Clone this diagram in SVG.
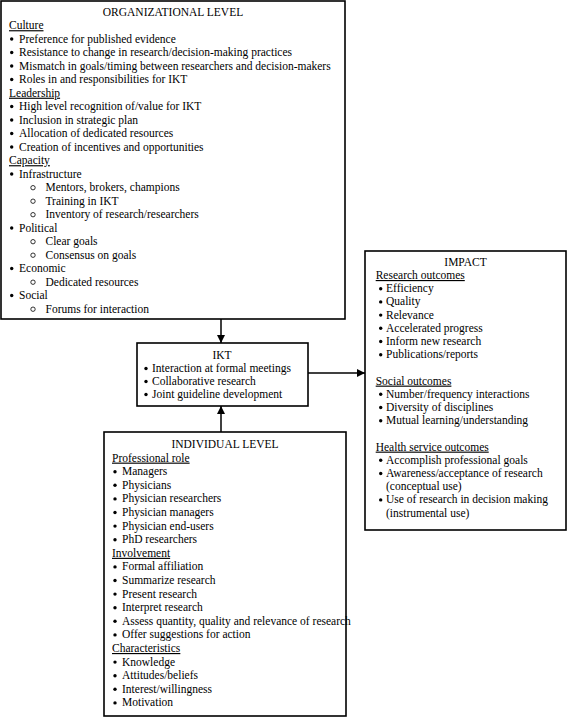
<svg xmlns="http://www.w3.org/2000/svg" width="568" height="718" viewBox="0 0 568 718">
<style>
text{font-family:"Liberation Serif","Times New Roman",serif;font-size:11.5px;fill:#000}
.t{text-anchor:middle}
.h{text-decoration:underline}
.box{fill:#fff;stroke:#000;stroke-width:1.6}
.b{fill:#000}
.o{fill:none;stroke:#000;stroke-width:0.8}
.edge{stroke:#000;stroke-width:1.5;fill:none}
</style>
<defs>
<marker id="ah" viewBox="0 0 10 10" refX="10" refY="5" markerWidth="8" markerHeight="8" markerUnits="userSpaceOnUse" orient="auto">
<path d="M0,0 L10,5 L0,10 z" fill="#000"/>
</marker>
</defs>
<rect width="568" height="718" fill="#fff"/>

<g id="organizational">
<rect class="box" x="1" y="1" width="344" height="318"/>
<text class="t" x="173" y="15.7">ORGANIZATIONAL LEVEL</text>
<text class="h" x="9" y="29.2">Culture</text>
<circle class="b" cx="11.7" cy="39" r="1.7"/><text x="19" y="42.7">Preference for published evidence</text>
<circle class="b" cx="11.7" cy="52.5" r="1.7"/><text x="19" y="56.2">Resistance to change in research/decision-making practices</text>
<circle class="b" cx="11.7" cy="66" r="1.7"/><text x="19" y="69.7">Mismatch in goals/timing between researchers and decision-makers</text>
<circle class="b" cx="11.7" cy="79.5" r="1.7"/><text x="19" y="83.2">Roles in and responsibilities for IKT</text>
<text class="h" x="9" y="96.7">Leadership</text>
<circle class="b" cx="11.7" cy="106.5" r="1.7"/><text x="19" y="110.2">High level recognition of/value for IKT</text>
<circle class="b" cx="11.7" cy="120" r="1.7"/><text x="19" y="123.7">Inclusion in strategic plan</text>
<circle class="b" cx="11.7" cy="133.5" r="1.7"/><text x="19" y="137.2">Allocation of dedicated resources</text>
<circle class="b" cx="11.7" cy="147" r="1.7"/><text x="19" y="150.7">Creation of incentives and opportunities</text>
<text class="h" x="9" y="164.2">Capacity</text>
<circle class="b" cx="11.7" cy="174" r="1.7"/><text x="19" y="177.7">Infrastructure</text>
<circle class="o" cx="33" cy="187.7" r="2.2"/><text x="45.5" y="191.2">Mentors, brokers, champions</text>
<circle class="o" cx="33" cy="201.2" r="2.2"/><text x="45.5" y="204.7">Training in IKT</text>
<circle class="o" cx="33" cy="214.7" r="2.2"/><text x="45.5" y="218.2">Inventory of research/researchers</text>
<circle class="b" cx="11.7" cy="228" r="1.7"/><text x="19" y="231.7">Political</text>
<circle class="o" cx="33" cy="241.7" r="2.2"/><text x="45.5" y="245.2">Clear goals</text>
<circle class="o" cx="33" cy="255.2" r="2.2"/><text x="45.5" y="258.7">Consensus on goals</text>
<circle class="b" cx="11.7" cy="268.5" r="1.7"/><text x="19" y="272.2">Economic</text>
<circle class="o" cx="33" cy="282.2" r="2.2"/><text x="45.5" y="285.7">Dedicated resources</text>
<circle class="b" cx="11.7" cy="295.5" r="1.7"/><text x="19" y="299.2">Social</text>
<circle class="o" cx="33" cy="309.2" r="2.2"/><text x="45.5" y="312.7">Forums for interaction</text>
</g>

<g id="ikt">
<rect class="box" x="137" y="343" width="171" height="63"/>
<text class="t" x="222" y="359">IKT</text>
<circle class="b" cx="146" cy="368.5" r="1.7"/><text x="152" y="372">Interaction at formal meetings</text>
<circle class="b" cx="146" cy="381.5" r="1.7"/><text x="152" y="385">Collaborative research</text>
<circle class="b" cx="146" cy="394.5" r="1.7"/><text x="152" y="398">Joint guideline development</text>
</g>

<g id="impact">
<rect class="box" x="365" y="251" width="201" height="279"/>
<text class="t" x="465.5" y="266">IMPACT</text>
<text class="h" x="375.7" y="279">Research outcomes</text>
<circle class="b" cx="380.7" cy="288.7" r="1.7"/><text x="386" y="292.2">Efficiency</text>
<circle class="b" cx="380.7" cy="301.9" r="1.7"/><text x="386" y="305.4">Quality</text>
<circle class="b" cx="380.7" cy="315.1" r="1.7"/><text x="386" y="318.6">Relevance</text>
<circle class="b" cx="380.7" cy="328.3" r="1.7"/><text x="386" y="331.8">Accelerated progress</text>
<circle class="b" cx="380.7" cy="341.5" r="1.7"/><text x="386" y="345">Inform new research</text>
<circle class="b" cx="380.7" cy="354.7" r="1.7"/><text x="386" y="358.2">Publications/reports</text>
<text class="h" x="375.7" y="384.6">Social outcomes</text>
<circle class="b" cx="380.7" cy="394.3" r="1.7"/><text x="386" y="397.8">Number/frequency interactions</text>
<circle class="b" cx="380.7" cy="407.5" r="1.7"/><text x="386" y="411">Diversity of disciplines</text>
<circle class="b" cx="380.7" cy="420.7" r="1.7"/><text x="386" y="424.2">Mutual learning/understanding</text>
<text class="h" x="375.7" y="450.6">Health service outcomes</text>
<circle class="b" cx="380.7" cy="460.3" r="1.7"/><text x="386" y="463.8">Accomplish professional goals</text>
<circle class="b" cx="380.7" cy="473.5" r="1.7"/><text x="386" y="477">Awareness/acceptance of research</text>
<text x="386" y="490.2">(conceptual use)</text>
<circle class="b" cx="380.7" cy="499.9" r="1.7"/><text x="386" y="503.4">Use of research in decision making</text>
<text x="386" y="516.6">(instrumental use)</text>
</g>

<g id="individual">
<rect class="box" x="104" y="432" width="242" height="284"/>
<text class="t" x="225" y="448">INDIVIDUAL LEVEL</text>
<text class="h" x="112" y="461.6">Professional role</text>
<circle class="b" cx="115" cy="471.7" r="1.7"/><text x="122" y="475.2">Managers</text>
<circle class="b" cx="115" cy="485.3" r="1.7"/><text x="122" y="488.8">Physicians</text>
<circle class="b" cx="115" cy="498.9" r="1.7"/><text x="122" y="502.4">Physician researchers</text>
<circle class="b" cx="115" cy="512.5" r="1.7"/><text x="122" y="516">Physician managers</text>
<circle class="b" cx="115" cy="526.1" r="1.7"/><text x="122" y="529.6">Physician end-users</text>
<circle class="b" cx="115" cy="539.7" r="1.7"/><text x="122" y="543.2">PhD researchers</text>
<text class="h" x="112" y="556.8">Involvement</text>
<circle class="b" cx="115" cy="566.9" r="1.7"/><text x="122" y="570.4">Formal affiliation</text>
<circle class="b" cx="115" cy="580.5" r="1.7"/><text x="122" y="584">Summarize research</text>
<circle class="b" cx="115" cy="594.1" r="1.7"/><text x="122" y="597.6">Present research</text>
<circle class="b" cx="115" cy="607.7" r="1.7"/><text x="122" y="611.2">Interpret research</text>
<circle class="b" cx="115" cy="621.3" r="1.7"/><text x="122" y="624.8">Assess quantity, quality and relevance of research</text>
<circle class="b" cx="115" cy="634.9" r="1.7"/><text x="122" y="638.4">Offer suggestions for action</text>
<text class="h" x="112" y="652">Characteristics</text>
<circle class="b" cx="115" cy="662.1" r="1.7"/><text x="122" y="665.6">Knowledge</text>
<circle class="b" cx="115" cy="675.7" r="1.7"/><text x="122" y="679.2">Attitudes/beliefs</text>
<circle class="b" cx="115" cy="689.3" r="1.7"/><text x="122" y="692.8">Interest/willingness</text>
<circle class="b" cx="115" cy="702.9" r="1.7"/><text x="122" y="706.4">Motivation</text>
</g>

<g id="connectors">
<path class="edge" d="M221,319 L221,343" marker-end="url(#ah)"/>
<path class="edge" d="M221,432 L221,406" marker-end="url(#ah)"/>
<path class="edge" d="M308,373 L365,373" marker-end="url(#ah)"/>
</g>
</svg>
